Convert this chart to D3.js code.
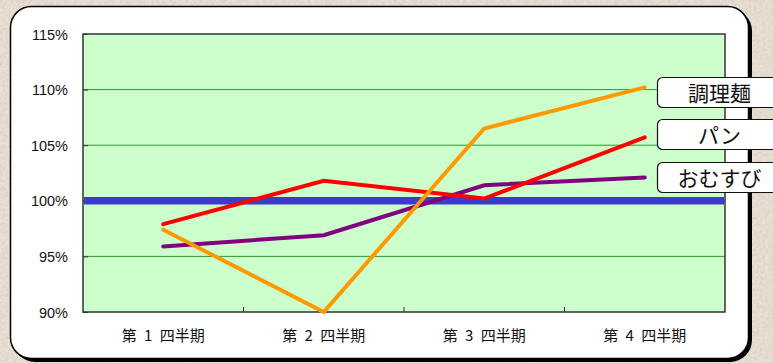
<!DOCTYPE html>
<html>
<head>
<meta charset="utf-8">
<script src="https://cdn.jsdelivr.net/npm/d3@7"></script>
<style>
  body { margin: 0; background: #e7ded2; }
  svg { display: block; }
</style>
</head>
<body>
<script>
// data
const quarters = ['第 1 四半期', '第 2 四半期', '第 3 四半期', '第 4 四半期'];
const onigiri = [95.9, 96.9, 101.4, 102.1];   // おむすび
const pan = [97.9, 101.8, 100.2, 105.7];       // パン
const noodles = [97.4, 90.0, 106.5, 110.2];    // 調理麺
const yTicks = [90, 95, 100, 105, 110, 115];
const baseline = 100;

const seriesNames = ['調理麺', 'パン', 'おむすび'];
const seriesValues = [noodles, pan, onigiri];
const seriesColors = ['#ff9900', '#ff0000', '#800080'];

const W = 773, H = 363;
const plot = { left: 83, top: 34, right: 725, bottom: 312 };

const svg = d3.select('body').append('svg')
  .attr('width', W)
  .attr('height', H);

// textured paper backdrop
const defs = svg.append('defs');
const tex = defs.append('filter').attr('id', 'paper');
tex.append('feTurbulence')
  .attr('type', 'fractalNoise')
  .attr('baseFrequency', 0.35)
  .attr('numOctaves', 3)
  .attr('seed', 4);
tex.append('feColorMatrix')
  .attr('type', 'matrix')
  .attr('values', '0 0 0 0 0.55  0 0 0 0 0.47  0 0 0 0 0.38  0 0 0 -1.1 0.75');
tex.append('feComposite').attr('in2', 'SourceGraphic').attr('operator', 'in');

svg.append('rect').attr('width', W).attr('height', H).attr('fill', '#e9e0d4');
svg.append('rect').attr('width', W).attr('height', H).attr('fill', '#e9e0d4')
  .attr('filter', 'url(#paper)').attr('opacity', 0.6);

// card with shadow on right/bottom
svg.append('rect')
  .attr('x', 13).attr('y', 9).attr('width', 739).attr('height', 353)
  .attr('rx', 22).attr('fill', '#000');
svg.append('rect')
  .attr('x', 10.5).attr('y', 6.5).attr('width', 738).attr('height', 352)
  .attr('rx', 21).attr('fill', '#fff')
  .attr('stroke', '#000').attr('stroke-width', 1.5);

// scales
const x = d3.scaleBand()
  .domain(quarters)
  .range([plot.left, plot.right]);

const y = d3.scaleLinear()
  .domain([90, 115])
  .range([plot.bottom, plot.top]);

// plot area
svg.append('rect')
  .attr('x', plot.left).attr('y', plot.top)
  .attr('width', plot.right - plot.left).attr('height', plot.bottom - plot.top)
  .attr('fill', '#ccffcc');

// gridlines
svg.append('g')
  .selectAll('line')
  .data(yTicks.filter(t => t > 90 && t < 115))
  .join('line')
  .attr('x1', plot.left).attr('x2', plot.right)
  .attr('y1', d => y(d)).attr('y2', d => y(d))
  .attr('stroke', '#339933').attr('stroke-width', 1);

// y axis
const yAxis = svg.append('g')
  .attr('transform', `translate(${plot.left},0)`)
  .call(d3.axisRight(y).tickValues(yTicks).tickSize(5).tickFormat(''));
yAxis.select('.domain').remove();
yAxis.selectAll('line').attr('stroke', '#333');

svg.append('g')
  .selectAll('text')
  .data(yTicks)
  .join('text')
  .attr('x', 68).attr('y', d => y(d) + 5.5)
  .attr('text-anchor', 'end')
  .attr('font-family', 'Liberation Sans, Arial, sans-serif')
  .attr('font-size', 14.5)
  .attr('fill', '#111')
  .text(d => d + '%');

// x axis
const xAxis = svg.append('g')
  .attr('transform', `translate(0,${plot.bottom})`)
  .call(d3.axisTop(x).tickSize(0).tickFormat(''));
xAxis.select('.domain').remove();

svg.append('g')
  .selectAll('line')
  .data(quarters.slice(1))
  .join('line')
  .attr('x1', d => x(d)).attr('x2', d => x(d))
  .attr('y1', plot.bottom).attr('y2', plot.bottom - 5)
  .attr('stroke', '#333');

svg.append('g')
  .selectAll('text')
  .data(quarters)
  .join('text')
  .attr('x', d => x(d) + x.bandwidth() / 2)
  .attr('y', 341)
  .attr('text-anchor', 'middle')
  .attr('font-family', 'Noto Sans CJK JP, sans-serif')
  .attr('font-size', 15)
  .attr('word-spacing', 4)
  .attr('fill', '#111')
  .text(d => d);

// plot border
svg.append('rect')
  .attr('x', plot.left).attr('y', plot.top)
  .attr('width', plot.right - plot.left).attr('height', plot.bottom - plot.top)
  .attr('fill', 'none').attr('stroke', '#333').attr('stroke-width', 1.5);

// 100% baseline
svg.append('line')
  .attr('x1', plot.left + 1).attr('x2', plot.right - 1)
  .attr('y1', y(baseline)).attr('y2', y(baseline))
  .attr('stroke', '#3c3ccc').attr('stroke-width', 7.5);

// series lines
const line = d3.line()
  .x((d, i) => x(quarters[i]) + x.bandwidth() / 2)
  .y(d => y(d));

// draw purple first, then red, then orange on top
[2, 1, 0].forEach(k => {
  svg.append('path')
    .datum(seriesValues[k])
    .attr('d', line)
    .attr('fill', 'none')
    .attr('stroke', seriesColors[k])
    .attr('stroke-width', 4)
    .attr('stroke-linejoin', 'miter')
    .attr('stroke-linecap', 'round');
});

// labels at line ends
const labelTops = [77, 119, 162];
const labels = svg.append('g').selectAll('g')
  .data(seriesNames)
  .join('g')
  .attr('transform', (d, i) => `translate(657.5,${labelTops[i] + 0.5})`);

labels.append('rect')
  .attr('width', 140).attr('height', 30)
  .attr('rx', 5)
  .attr('fill', '#fff')
  .attr('stroke', '#111')
  .attr('stroke-width', 1.2);

labels.append('text')
  .attr('x', 62).attr('y', 23)
  .attr('text-anchor', 'middle')
  .attr('font-family', 'Noto Sans CJK JP, sans-serif')
  .attr('font-size', 21)
  .attr('fill', '#111')
  .text(d => d);
</script>
</body>
</html>
